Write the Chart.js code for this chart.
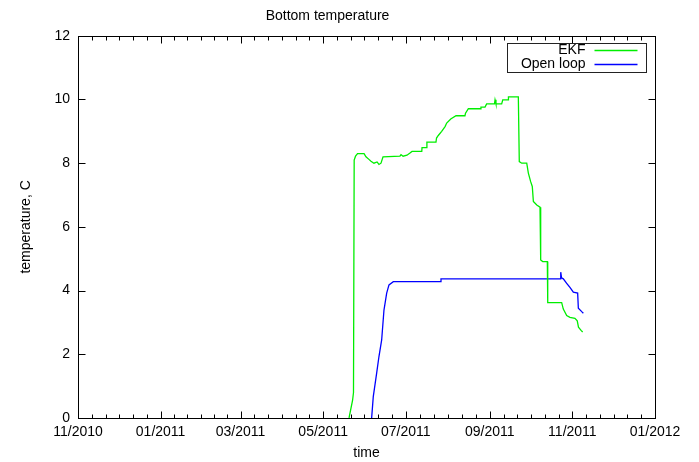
<!DOCTYPE html>
<html>
<head>
<meta charset="utf-8">
<script src="https://cdn.jsdelivr.net/npm/chart.js@4.4.1/dist/chart.umd.min.js"></script>
<style>
  html, body { margin: 0; padding: 0; background: #fff; }
  #wrap { width: 699px; height: 462px; }
</style>
</head>
<body>
<div id="wrap"><canvas id="bottomTemp"></canvas></div>
<script>
// x values are days counted from 1 Nov 2010
const ekfDay = [200.1, 202.7, 203.4, 203.9, 204.9, 206.4, 211.2, 212.6, 214.8, 216.3, 218.5, 220.8, 222.2, 223.7, 225.2,
  237.7, 238.5, 240.0, 242.9, 245.1, 246.6, 253.8, 254.0, 257.4, 257.6, 264.3, 264.7, 266.0, 268.5, 271.0, 272.2, 275.2,
  279.1, 285.7, 286.1, 288.2, 297.3, 297.5, 300.5, 301.7, 307.5, 307.9, 308.6, 312.8, 313.6, 317.7, 317.8, 325.1, 325.8,
  327.6, 331.3, 332.5, 334.2, 335.4, 336.2, 338.7, 341.1, 341.6, 343.1, 346.5, 346.8, 357.1, 358.3, 360.8, 363.2, 366.9,
  368.6, 369.5, 371.4, 372.6];
const ekfTemp = [0, 0.55, 0.8, 8.1, 8.22, 8.3, 8.3, 8.2, 8.12, 8.06, 8.0, 8.04, 7.96, 8.0, 8.2,
  8.22, 8.27, 8.22, 8.25, 8.32, 8.37, 8.37, 8.49, 8.49, 8.66, 8.66, 8.79, 8.87, 9.0, 9.15, 9.26, 9.39,
  9.49, 9.49, 9.57, 9.71, 9.71, 9.76, 9.76, 9.86, 9.86, 9.99, 9.86, 9.86, 9.99, 9.99, 10.08, 10.08, 8.05,
  8.0, 8.0, 7.69, 7.42, 7.27, 6.8, 6.69, 6.62, 4.96, 4.91, 4.91, 3.62, 3.62, 3.42, 3.22, 3.16, 3.13,
  3.05, 2.85, 2.75, 2.7];
const openDay = [216.8, 218.0, 220.5, 222.2, 224.2, 225.9, 227.9, 229.6, 232.8, 267.8, 268.0, 356.2, 356.4, 357.0,
  358.3, 360.8, 363.2, 365.7, 368.9, 369.4, 371.9, 373.1];
const openTemp = [0, 0.67, 1.41, 1.93, 2.45, 3.39, 3.92, 4.18, 4.28, 4.28, 4.37, 4.37, 4.58, 4.4,
  4.37, 4.23, 4.1, 3.95, 3.92, 3.45, 3.34, 3.29];

const monthTicks = [0, 61, 120, 181, 242, 304, 365, 426];
const monthLabels = ['11/2010', '01/2011', '03/2011', '05/2011', '07/2011', '09/2011', '11/2011', '01/2012'];
const seriesNames = ['EKF', 'Open loop'];
const seriesColors = ['#00ee00', '#0000ff'];

const FONT = "'Liberation Sans', Arial, sans-serif";
Chart.defaults.font.family = FONT;
Chart.defaults.font.size = 14;
Chart.defaults.color = '#000';

// gnuplot style frame: border, inward ticks and a boxed key
const gnuFrame = {
  id: 'gnuFrame',
  afterDraw(chart) {
    const { ctx, chartArea: a, scales: { x, y } } = chart;
    const L = Math.round(a.left) + 0.5, R = Math.round(a.right) + 0.5;
    const T = Math.round(a.top) + 0.5, B = Math.round(a.bottom) + 0.5;
    ctx.save();
    ctx.strokeStyle = '#000';
    ctx.lineWidth = 1;
    ctx.beginPath();
    monthTicks.forEach((d, i) => {
      const px = Math.round(x.getPixelForValue(d)) + 0.5;
      ctx.moveTo(px, B); ctx.lineTo(px, B - 7);
      ctx.moveTo(px, T); ctx.lineTo(px, T + 7);
      if (i < monthTicks.length - 1) {
        const step = (monthTicks[i + 1] - d) / 6;
        for (let k = 1; k < 6; k++) {
          const mx = Math.round(x.getPixelForValue(d + k * step)) + 0.5;
          ctx.moveTo(mx, B); ctx.lineTo(mx, B - 4);
          ctx.moveTo(mx, T); ctx.lineTo(mx, T + 4);
        }
      }
    });
    y.ticks.forEach((t) => {
      const py = Math.round(y.getPixelForValue(t.value)) + 0.5;
      ctx.moveTo(L, py); ctx.lineTo(L + 7, py);
      ctx.moveTo(R, py); ctx.lineTo(R - 7, py);
    });
    ctx.stroke();
    ctx.strokeRect(L, T, R - L, B - T);

    // key box
    const bx1 = R - 9, bx0 = bx1 - 139, by0 = T + 7, by1 = by0 + 29;
    ctx.strokeStyle = '#222';
    ctx.strokeRect(bx0, by0, bx1 - bx0, by1 - by0);
    ctx.font = '14px ' + FONT;
    ctx.textAlign = 'right';
    ctx.textBaseline = 'middle';
    chart.data.datasets.forEach((ds, i) => {
      const ry = by0 + 7 + i * 14;
      ctx.fillStyle = '#000';
      ctx.fillText(ds.label, bx0 + 78, ry);
      ctx.strokeStyle = ds.borderColor;
      ctx.lineWidth = 1.3;
      ctx.beginPath();
      ctx.moveTo(bx0 + 87, ry);
      ctx.lineTo(bx0 + 130, ry);
      ctx.stroke();
    });
    ctx.restore();
  }
};

new Chart(document.getElementById('bottomTemp'), {
  type: 'line',
  data: {
    datasets: [
      {
        label: seriesNames[0],
        data: ekfDay.map((d, i) => ({ x: d, y: ekfTemp[i] })),
        borderColor: seriesColors[0],
        borderWidth: 1.3,
        pointRadius: 0,
        tension: 0,
        fill: false,
      },
      {
        label: seriesNames[1],
        data: openDay.map((d, i) => ({ x: d, y: openTemp[i] })),
        borderColor: seriesColors[1],
        borderWidth: 1.3,
        pointRadius: 0,
        tension: 0,
        fill: false,
      },
    ],
  },
  options: {
    responsive: true,
    maintainAspectRatio: false,
    animation: false,
    events: [],
    layout: { padding: { left: 0, right: 44, top: 0, bottom: 0 } },
    plugins: {
      legend: { display: false },
      tooltip: { enabled: false },
      title: {
        display: true,
        text: 'Bottom temperature',
        font: { size: 14, weight: 'normal' },
        color: '#000',
        padding: { top: 8, bottom: 11 },
      },
    },
    scales: {
      x: {
        type: 'linear',
        min: 0,
        max: 426,
        grid: { display: false, drawTicks: false },
        border: { display: false },
        afterBuildTicks: (scale) => {
          scale.ticks = monthTicks.map((v) => ({ value: v }));
        },
        afterFit: (scale) => { scale.height = 44; },
        ticks: {
          autoSkip: false,
          maxRotation: 0,
          padding: 6,
          callback: (v) => monthLabels[monthTicks.indexOf(v)],
        },
        title: { display: true, text: 'time', padding: { top: 0, bottom: 0 } },
      },
      y: {
        min: 0,
        max: 12,
        grid: { display: false, drawTicks: false },
        border: { display: false },
        afterFit: (scale) => { scale.width = 78; },
        ticks: { stepSize: 2, padding: 8 },
        title: { display: true, text: 'temperature, C', padding: { top: 18, bottom: 0 } },
      },
    },
  },
  plugins: [gnuFrame],
});
</script>
</body>
</html>
